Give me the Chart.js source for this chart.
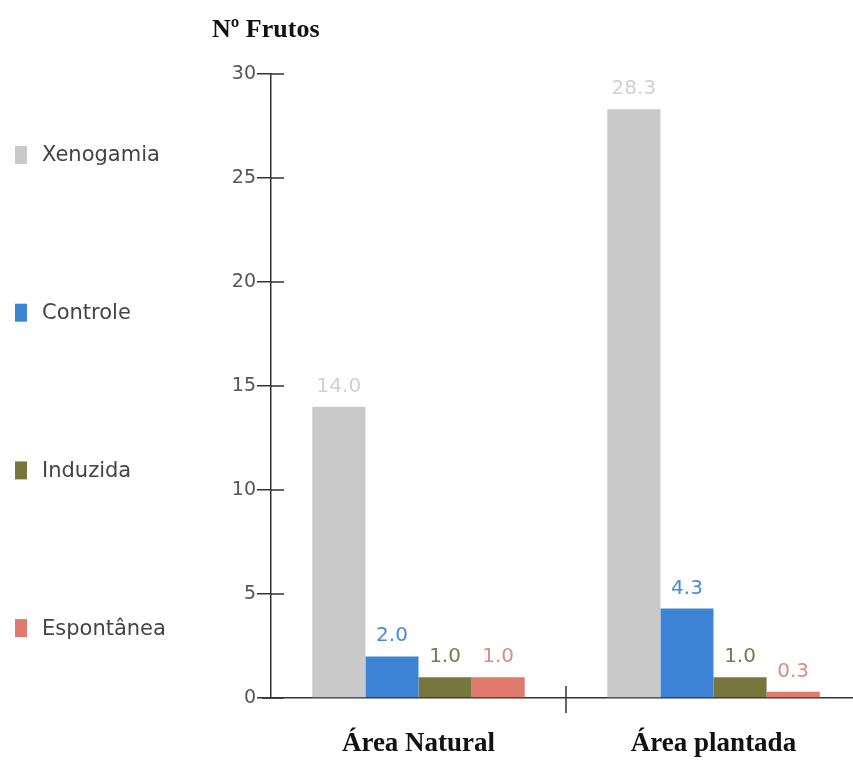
<!DOCTYPE html>
<html lang="pt">
<head>
    <meta charset="UTF-8">
    <title>Nº Frutos</title>
    <script src="https://cdn.jsdelivr.net/npm/chart.js"></script>
    <style>
        html, body {
            margin: 0;
            padding: 0;
            background: #ffffff;
            overflow: hidden;
        }
        .wrap {
            position: relative;
            width: 861px;
            height: 760px;
        }
    </style>
</head>
<body>
    <div class="wrap">
        <canvas id="frutosChart"></canvas>
    </div>

    <script>
        // data
        const categories = ["Área Natural", "Área plantada"];
        const seriesNames = ["Xenogamia", "Controle", "Induzida", "Espontânea"];
        const xenogamia = [14.0, 28.3];
        const controle = [2.0, 4.3];
        const induzida = [1.0, 1.0];
        const espontanea = [1.0, 0.3];
        const yTicks = [0, 5, 10, 15, 20, 25, 30];

        const barColors = ["#c9c9c9", "#3d83d6", "#77773d", "#e07a6c"];
        const labelColors = ["#d0d0d0", "#4a8ad2", "#7a7a4c", "#d98d84"];
        const seriesValues = [xenogamia, controle, induzida, espontanea];

        const sansFont = "'DejaVu Sans', Verdana, sans-serif";
        const serifFont = "'Liberation Serif', 'Times New Roman', serif";

        // value labels, legend, axis title and small axis marks
        const decorations = {
            id: "decorations",
            afterDatasetsDraw(chart) {
                const ctx = chart.ctx;
                const area = chart.chartArea;
                const yScale = chart.scales.y;
                ctx.save();

                // value labels above bars
                ctx.font = "20px " + sansFont;
                ctx.textAlign = "center";
                ctx.textBaseline = "alphabetic";
                chart.data.datasets.forEach((ds, i) => {
                    chart.getDatasetMeta(i).data.forEach((bar, j) => {
                        ctx.fillStyle = labelColors[i];
                        ctx.fillText(ds.data[j].toFixed(1), bar.x, bar.y - 15);
                    });
                });

                // legend on the left
                ctx.font = "21px " + sansFont;
                ctx.textAlign = "left";
                ctx.textBaseline = "middle";
                seriesNames.forEach((name, i) => {
                    const cy = 155 + i * 157.7;
                    ctx.fillStyle = barColors[i];
                    ctx.fillRect(15, cy - 9, 12, 18);
                    ctx.fillStyle = "#444444";
                    ctx.fillText(name, 42, cy + 1);
                });

                // y axis title
                ctx.font = "bold 26px " + serifFont;
                ctx.fillStyle = "#111111";
                ctx.textBaseline = "alphabetic";
                ctx.fillText("Nº Frutos", 212, 37);

                // axis marks: ticks cross the axis, x axis starts a bit left, group separator
                ctx.strokeStyle = "#333333";
                ctx.lineWidth = 1.5;
                ctx.beginPath();
                yTicks.forEach(v => {
                    const ty = yScale.getPixelForValue(v);
                    ctx.moveTo(area.left, ty);
                    ctx.lineTo(area.left + 13, ty);
                });
                ctx.moveTo(262, area.bottom);
                ctx.lineTo(area.left, area.bottom);
                const sepX = (area.left + area.right) / 2;
                ctx.moveTo(sepX, area.bottom - 12);
                ctx.lineTo(sepX, area.bottom + 15);
                ctx.stroke();

                ctx.restore();
            }
        };

        new Chart(document.getElementById("frutosChart"), {
            type: "bar",
            data: {
                labels: categories,
                datasets: seriesNames.map((name, i) => ({
                    label: name,
                    data: seriesValues[i],
                    backgroundColor: barColors[i],
                    borderWidth: 0,
                    categoryPercentage: 0.72,
                    barPercentage: 1.0
                }))
            },
            options: {
                responsive: true,
                maintainAspectRatio: false,
                animation: false,
                layout: { padding: { top: 74, left: 0, right: 0, bottom: 0 } },
                plugins: {
                    legend: { display: false },
                    tooltip: { enabled: false }
                },
                scales: {
                    x: {
                        grid: { display: false, drawTicks: false },
                        border: { display: true, color: "#333333", width: 1.5 },
                        ticks: {
                            color: "#111111",
                            font: { family: serifFont, size: 27, weight: "bold" },
                            padding: 30
                        },
                        afterFit(scale) { scale.height = 62; }
                    },
                    y: {
                        min: 0,
                        max: 30,
                        afterBuildTicks(scale) {
                            scale.ticks = yTicks.map(v => ({ value: v }));
                        },
                        grid: {
                            drawOnChartArea: false,
                            drawTicks: true,
                            tickLength: 14,
                            color: "#333333",
                            lineWidth: 1.5
                        },
                        border: { display: true, color: "#333333", width: 1.5 },
                        ticks: {
                            color: "#555555",
                            font: { family: sansFont, size: 19 },
                            padding: 1
                        },
                        afterFit(scale) { scale.width = 271; }
                    }
                }
            },
            plugins: [decorations]
        });
    </script>
</body>
</html>
